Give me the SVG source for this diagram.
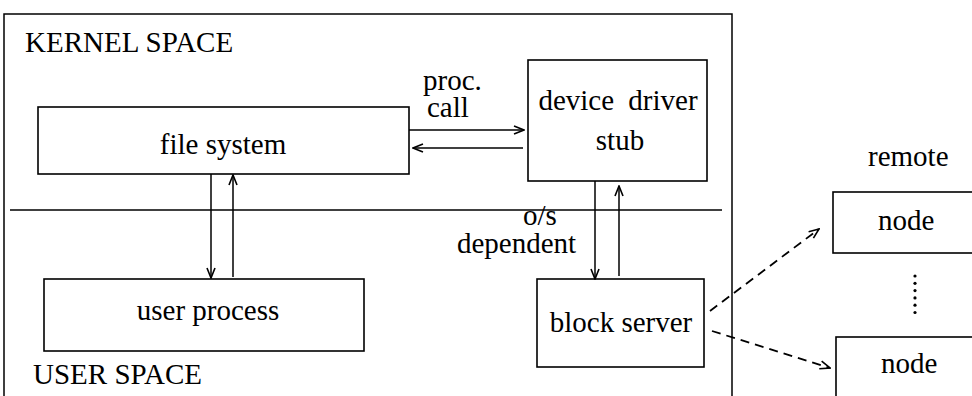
<svg xmlns="http://www.w3.org/2000/svg" width="972" height="396" viewBox="0 0 972 396">
  <style>
    .box { fill: #fff; stroke: #000; stroke-width: 1.6; }
    .line { fill: none; stroke: #000; stroke-width: 1.5; }
    .dash { fill: none; stroke: #000; stroke-width: 1.8; stroke-dasharray: 9 6; }
    text { font-family: "Liberation Serif", "Times New Roman", serif; font-size: 29px; fill: #000; }
    .mid { text-anchor: middle; }
  </style>
  <defs>
    <marker id="arrow" viewBox="0 0 12 10" refX="11" refY="5" markerWidth="12" markerHeight="10" markerUnits="userSpaceOnUse" orient="auto">
      <path d="M1,1 L11,5 L1,9" fill="none" stroke="#000" stroke-width="1.6"/>
    </marker>
  </defs>

  <rect width="972" height="396" fill="#fff"/>

  <!-- host frame and kernel/user boundary -->
  <g id="host">
    <path class="line" d="M4,396 V14 H732 V396"/>
    <line class="line" x1="10" y1="210" x2="722" y2="210"/>
    <text x="25" y="52">KERNEL SPACE</text>
    <text x="33" y="384">USER SPACE</text>
  </g>

  <g id="file-system">
    <rect class="box" x="38" y="107" width="371" height="67"/>
    <text class="mid" x="223" y="154">file system</text>
  </g>

  <g id="device-driver-stub">
    <rect class="box" x="528" y="60" width="179" height="121"/>
    <text class="mid" x="618" y="110" word-spacing="7">device driver</text>
    <text class="mid" x="620" y="150">stub</text>
  </g>

  <g id="user-process">
    <rect class="box" x="44" y="279" width="320" height="72"/>
    <text class="mid" x="208" y="320">user process</text>
  </g>

  <g id="block-server">
    <rect class="box" x="537" y="279" width="167" height="88"/>
    <text class="mid" x="621" y="332">block server</text>
  </g>

  <g id="remote-nodes">
    <text x="868" y="166">remote</text>
    <rect class="box" x="833" y="192" width="150" height="61"/>
    <text x="878" y="230">node</text>
    <g fill="#000">
      <circle cx="915" cy="276" r="1.6"/>
      <circle cx="915" cy="283.3" r="1.6"/>
      <circle cx="915" cy="290.6" r="1.6"/>
      <circle cx="915" cy="297.9" r="1.6"/>
      <circle cx="915" cy="305.2" r="1.6"/>
      <circle cx="915" cy="312.5" r="1.6"/>
    </g>
    <rect class="box" x="836" y="337" width="150" height="70"/>
    <text x="881" y="373">node</text>
  </g>

  <g id="connectors">
    <!-- procedure call between file system and stub -->
    <line class="line" x1="409" y1="130" x2="524" y2="130" marker-end="url(#arrow)"/>
    <line class="line" x1="523" y1="148" x2="413" y2="148" marker-end="url(#arrow)"/>
    <text x="423" y="90">proc.</text>
    <text x="427" y="117">call</text>
    <!-- file system <-> user process -->
    <line class="line" x1="211" y1="174" x2="211" y2="278" marker-end="url(#arrow)"/>
    <line class="line" x1="233" y1="277" x2="233" y2="175" marker-end="url(#arrow)"/>
    <!-- stub <-> block server -->
    <line class="line" x1="595" y1="181" x2="595" y2="279" marker-end="url(#arrow)"/>
    <line class="line" x1="619" y1="276" x2="619" y2="186" marker-end="url(#arrow)"/>
    <text x="523" y="225">o/s</text>
    <text x="457" y="253">dependent</text>
    <!-- block server to remote nodes -->
    <line class="dash" x1="710" y1="311" x2="819" y2="229" marker-end="url(#arrow)"/>
    <line class="dash" x1="712" y1="331" x2="830" y2="368" marker-end="url(#arrow)"/>
  </g>
</svg>
